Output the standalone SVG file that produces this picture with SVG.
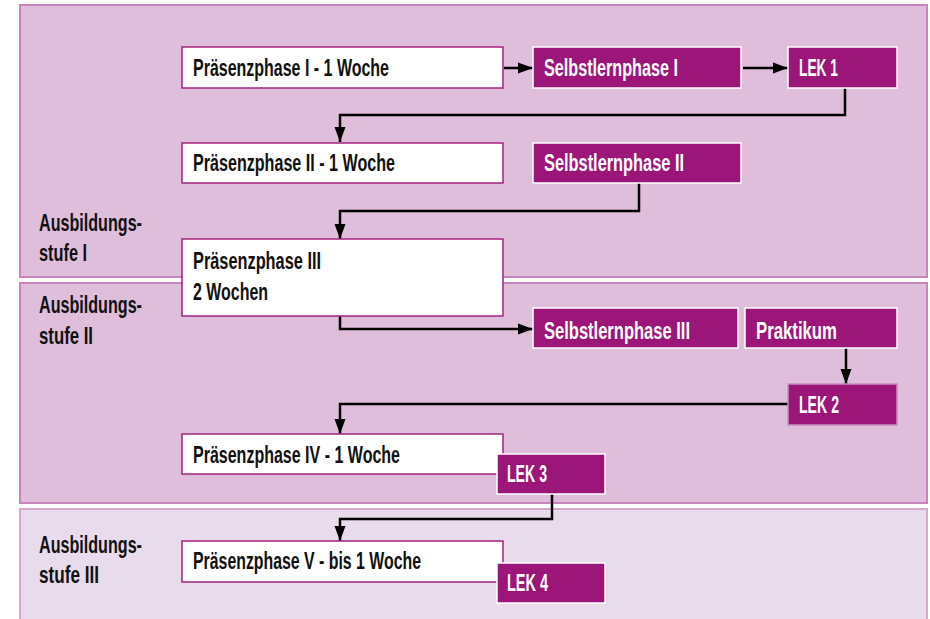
<svg xmlns="http://www.w3.org/2000/svg" width="930" height="619" viewBox="0 0 930 619">
<defs>
<style>
.panel{fill:#dfbedb;stroke:#c785bc;stroke-width:2}
.panel3{fill:#e8dbec;stroke:#d4a9cd;stroke-width:2}
.wbox{fill:#ffffff;stroke:#a3237f;stroke-width:1.5}
.pbox{fill:#9c1579;stroke:#ffffff;stroke-width:1.5}
.lbl{font-family:"Liberation Sans",Arial,sans-serif;font-weight:bold;font-size:23px;fill:#111111}
.wt{font-family:"Liberation Sans",Arial,sans-serif;font-weight:bold;font-size:23px;fill:#ffffff}
.conn{fill:none;stroke:#000000;stroke-width:2.5}
</style>
<marker id="ah" markerUnits="userSpaceOnUse" markerWidth="16" markerHeight="12" refX="15" refY="6" orient="auto">
<path d="M0,0.5 L15,6 L0,11.5 z" fill="#000000"/>
</marker>
</defs>

<g id="panels">
<rect id="stufe1" class="panel" x="20" y="5" width="907" height="272"/>
<rect id="stufe2" class="panel" x="20" y="283" width="907" height="220"/>
<rect id="stufe3" class="panel3" x="20" y="509" width="907" height="115"/>
</g>

<g id="stage-labels">
<g id="label1"><text class="lbl" x="39" y="231" textLength="103" lengthAdjust="spacingAndGlyphs">Ausbildungs-</text><text class="lbl" x="39" y="261" textLength="48" lengthAdjust="spacingAndGlyphs">stufe I</text></g>
<g id="label2"><text class="lbl" x="39" y="313" textLength="103" lengthAdjust="spacingAndGlyphs">Ausbildungs-</text><text class="lbl" x="39" y="344" textLength="54" lengthAdjust="spacingAndGlyphs">stufe II</text></g>
<g id="label3"><text class="lbl" x="39" y="553" textLength="103" lengthAdjust="spacingAndGlyphs">Ausbildungs-</text><text class="lbl" x="39" y="583" textLength="60" lengthAdjust="spacingAndGlyphs">stufe III</text></g>
</g>

<g id="connectors">
<line class="conn" x1="504" y1="68" x2="533" y2="68" marker-end="url(#ah)"/>
<line class="conn" x1="743" y1="68" x2="788" y2="68" marker-end="url(#ah)"/>
<path class="conn" d="M845 88 V115 H340 V142" marker-end="url(#ah)"/>
<path class="conn" d="M639 183 V211 H340 V239" marker-end="url(#ah)"/>
<path class="conn" d="M340 316 V329 H533" marker-end="url(#ah)"/>
<line class="conn" x1="846" y1="348" x2="846" y2="384" marker-end="url(#ah)"/>
<path class="conn" d="M788 404 H340 V434" marker-end="url(#ah)"/>
<path class="conn" d="M552 494 V519 H340 V541" marker-end="url(#ah)"/>
</g>

<g id="p1"><rect class="wbox" x="182" y="47" width="321" height="41"/><text class="lbl" x="193" y="76" textLength="196" lengthAdjust="spacingAndGlyphs">Präsenzphase I - 1 Woche</text></g>
<g id="s1"><rect class="pbox" x="533" y="47" width="208" height="41"/><text class="wt" x="544" y="76" textLength="134" lengthAdjust="spacingAndGlyphs">Selbstlernphase I</text></g>
<g id="lek1"><rect class="pbox" x="788" y="47" width="109" height="41"/><text class="wt" x="799" y="76" textLength="39" lengthAdjust="spacingAndGlyphs">LEK 1</text></g>

<g id="p2"><rect class="wbox" x="182" y="143" width="321" height="40"/><text class="lbl" x="193" y="171" textLength="202" lengthAdjust="spacingAndGlyphs">Präsenzphase II - 1 Woche</text></g>
<g id="s2"><rect class="pbox" x="533" y="143" width="208" height="40"/><text class="wt" x="544" y="171" textLength="140" lengthAdjust="spacingAndGlyphs">Selbstlernphase II</text></g>

<g id="p3"><rect class="wbox" x="182" y="239" width="321" height="77"/><text class="lbl" x="193" y="269" textLength="128" lengthAdjust="spacingAndGlyphs">Präsenzphase III</text><text class="lbl" x="193" y="300" textLength="75" lengthAdjust="spacingAndGlyphs">2 Wochen</text></g>
<g id="s3"><rect class="pbox" x="533" y="308" width="205" height="40"/><text class="wt" x="544" y="339" textLength="146" lengthAdjust="spacingAndGlyphs">Selbstlernphase III</text></g>
<g id="praktikum"><rect class="pbox" x="745" y="308" width="152" height="40"/><text class="wt" x="756" y="339" textLength="81" lengthAdjust="spacingAndGlyphs">Praktikum</text></g>
<g id="lek2"><rect class="pbox" x="788" y="384" width="109" height="41" style="stroke:#c98fc0"/><text class="wt" x="799" y="413" textLength="40" lengthAdjust="spacingAndGlyphs">LEK 2</text></g>

<g id="p4"><rect class="wbox" x="182" y="434" width="321" height="40"/><text class="lbl" x="193" y="463" textLength="207" lengthAdjust="spacingAndGlyphs">Präsenzphase IV - 1 Woche</text></g>
<g id="lek3"><rect class="pbox" x="497" y="454" width="108" height="40"/><text class="wt" x="507" y="482" textLength="40" lengthAdjust="spacingAndGlyphs">LEK 3</text></g>

<g id="p5"><rect class="wbox" x="182" y="541" width="321" height="41"/><text class="lbl" x="193" y="569" textLength="228" lengthAdjust="spacingAndGlyphs">Präsenzphase V - bis 1 Woche</text></g>
<g id="lek4"><rect class="pbox" x="497" y="563" width="108" height="40"/><text class="wt" x="507" y="591" textLength="41" lengthAdjust="spacingAndGlyphs">LEK 4</text></g>
</svg>
